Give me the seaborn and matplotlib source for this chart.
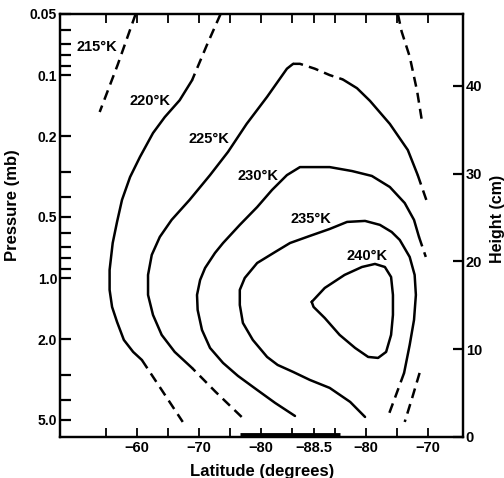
import matplotlib
matplotlib.use("Agg")
import matplotlib.pyplot as plt
import matplotlib.transforms as mtransforms
import seaborn as sns

# ---- axes data -------------------------------------------------------------
# x = position along the cross-polar section (deg of arc):
# left branch = |latitude|, right branch = 177 - |latitude|
x_limits = [47.6, 112.6]
xtick_pos = [55, 60, 65, 70, 75, 80, 85, 88.5, 92, 97, 102, 107]
xtick_labels = ["", "−60", "", "−70", "", "−80", "", "−88.5", "", "−80", "", "−70"]
p_limits = [6.07, 0.05]
p_major = [0.05, 0.1, 0.2, 0.5, 1.0, 2.0, 5.0]
p_major_labels = ["0.05", "0.1", "0.2", "0.5", "1.0", "2.0", "5.0"]
p_minor = [0.06, 0.07, 0.08, 0.09, 0.3, 0.4, 0.6, 0.7, 0.8, 0.9, 3.0, 4.0]
height_limits = [0, 48.2]
height_ticks = [0, 10, 20, 30, 40]
night_bar_x = [76.6, 92.7]

# ---- isotherms (x, pressure mb) -------------------------------------------
t215_x = [59.8, 56.9, 54.0]
t215_p = [0.050, 0.089, 0.152]

t220_top_x = [73.5, 71.3, 68.9]
t220_top_p = [0.050, 0.071, 0.106]
t220_x = [68.9, 66.9, 64.5, 62.6, 60.5, 58.9, 57.6, 56.8, 56.1, 55.6, 55.6, 56.0,
          56.8, 57.9, 59.4, 60.8]
t220_p = [0.106, 0.133, 0.161, 0.193, 0.253, 0.318, 0.412, 0.529, 0.672, 0.912,
          1.144, 1.388, 1.645, 2.018, 2.312, 2.532]
t220_bot_x = [60.8, 64.0, 67.4]
t220_bot_p = [2.532, 3.559, 5.117]
t220_right_x = [102.1, 102.7, 104.0, 105.2, 106.0]
t220_right_p = [0.050, 0.061, 0.081, 0.120, 0.170]

t225_bot_x = [76.9, 72.7, 68.9]
t225_bot_p = [4.835, 3.639, 2.774]
t225_x = [68.9, 66.1, 64.0, 62.6, 61.8, 61.8, 62.4, 63.7, 65.6, 68.5, 71.8, 74.7,
          77.7, 81.0, 84.2, 85.2]
t225_p = [2.774, 2.312, 1.906, 1.520, 1.211, 0.965, 0.769, 0.627, 0.517, 0.412,
          0.311, 0.239, 0.174, 0.128, 0.093, 0.088]
t225_peak_x = [85.2, 86.3, 88.7, 91.1, 93.2]
t225_peak_p = [0.088, 0.088, 0.093, 0.100, 0.105]
t225_right_x = [93.2, 95.5, 97.6, 100.8, 103.7, 105.3]
t225_right_p = [0.105, 0.116, 0.134, 0.174, 0.234, 0.311]
t225_end_x = [105.3, 106.8]
t225_end_p = [0.311, 0.422]

t230_x = [85.5, 82.3, 79.4, 76.3, 73.9, 71.8, 70.5, 69.8, 69.7, 70.2, 71.0, 72.6,
          73.9, 76.6, 79.4, 81.8, 84.2, 86.3, 91.1, 94.7, 97.9, 100.8, 103.2,
          104.7, 105.5]
t230_p = [4.781, 4.124, 3.559, 3.035, 2.620, 2.210, 1.802, 1.436, 1.211, 1.022,
          0.892, 0.752, 0.672, 0.547, 0.447, 0.368, 0.311, 0.284, 0.284, 0.297,
          0.314, 0.356, 0.427, 0.517, 0.627]
t230_end_x = [105.5, 106.6]
t230_end_p = [0.627, 0.787]
t230_low_x = [105.6, 104.4, 103.2]
t230_low_p = [2.934, 3.896, 5.117]

t235_x = [96.8, 94.4, 91.1, 87.9, 85.2, 82.7, 81.0, 78.7, 77.1, 76.6, 76.6, 77.4,
          79.4, 82.3, 84.7, 87.9, 91.1, 93.9, 96.8, 99.2, 101.1, 102.4, 104.0,
          104.8, 105.0, 104.7, 104.0, 103.1]
t235_p = [4.835, 4.077, 3.478, 3.177, 2.901, 2.680, 2.447, 2.018, 1.664, 1.357,
          1.144, 0.999, 0.843, 0.744, 0.672, 0.620, 0.573, 0.529, 0.523, 0.547,
          0.593, 0.649, 0.787, 0.965, 1.211, 1.608, 2.136, 2.934]
t235_end_x = [103.1, 101.8, 100.6]
t235_end_p = [2.934, 3.765, 4.727]

t240_x = [88.2, 90.3, 93.5, 96.3, 98.4, 100.0, 101.0, 101.3, 101.3, 101.0, 100.2,
          98.9, 97.3, 95.2, 92.7, 90.3, 88.5, 88.2]
t240_p = [1.311, 1.119, 0.965, 0.882, 0.852, 0.882, 0.988, 1.211, 1.520, 1.906,
          2.312, 2.475, 2.447, 2.210, 1.906, 1.573, 1.388, 1.311]

label_text = ["215°K", "220°K", "225°K", "230°K", "235°K", "240°K"]
label_x = [53.5, 62.1, 71.6, 79.5, 88.1, 97.1]
label_p = [0.0727, 0.134, 0.206, 0.314, 0.512, 0.778]

solid_segments = [(t220_x, t220_p), (t225_x, t225_p), (t225_right_x, t225_right_p),
                  (t230_x, t230_p), (t235_x, t235_p), (t240_x, t240_p)]
dashed_segments = [(t215_x, t215_p), (t220_top_x, t220_top_p), (t220_bot_x, t220_bot_p),
                   (t220_right_x, t220_right_p), (t225_bot_x, t225_bot_p),
                   (t225_peak_x, t225_peak_p), (t225_end_x, t225_end_p),
                   (t230_end_x, t230_end_p), (t230_low_x, t230_low_p),
                   (t235_end_x, t235_end_p)]

# ---- style -----------------------------------------------------------------
sns.set_theme(style="white")
plt.rcParams["font.family"] = ["Liberation Sans", "DejaVu Sans"]
plt.rcParams["font.weight"] = "bold"
plt.rcParams["axes.labelweight"] = "bold"
for key in ["text.color", "axes.labelcolor", "xtick.color", "ytick.color",
            "axes.edgecolor"]:
    plt.rcParams[key] = "black"

fig = plt.figure(figsize=(5.04, 4.78), dpi=100)
ax = fig.add_axes([60 / 504, 41 / 478, 403 / 504, 423 / 478])
ax.set_yscale("log")

LW = 1.8
for xs, ps in solid_segments:
    sns.lineplot(x=xs, y=ps, sort=False, estimator=None, color="black",
                 linewidth=LW, ax=ax, solid_capstyle="round", solid_joinstyle="round")
for xs, ps in dashed_segments:
    sns.lineplot(x=xs, y=ps, sort=False, estimator=None, color="black",
                 linewidth=LW, ax=ax, dashes=False)
    ax.lines[-1].set_linestyle((0, (4.0, 2.5)))

for t, x, p in zip(label_text, label_x, label_p):
    ax.text(x, p, t, ha="center", va="center", fontsize=10.5, fontweight="bold",
            color="black")

ax.set_xlim(*x_limits)
ax.set_ylim(*p_limits)

ax.set_yticks(p_major)
ax.set_yticklabels(p_major_labels)
ax.set_yticks(p_minor, minor=True)
ax.set_yticklabels([], minor=True)
ax.set_xticks(xtick_pos)
ax.set_xticklabels(xtick_labels)
ax.tick_params(axis="y", which="both", direction="in", left=True, right=False,
               length=8, width=1.6, pad=2, labelsize=10, colors="black")
ax.tick_params(axis="x", which="both", direction="in", top=True, bottom=True,
               length=6.5, width=1.3, pad=3, labelsize=10.5, colors="black")
for lab in ax.get_xticklabels() + ax.get_yticklabels():
    lab.set_fontweight("bold")

for sp in ax.spines.values():
    sp.set_linewidth(1.6)
    sp.set_color("black")

# thick bar along the lower axis
trans = mtransforms.blended_transform_factory(ax.transData, ax.transAxes)
ax.plot(night_bar_x, [0.004, 0.004], color="black", linewidth=3.5,
        transform=trans, clip_on=False, solid_capstyle="butt")

ax.set_xlabel("Latitude (degrees)", fontsize=12, fontweight="bold", color="black")
ax.xaxis.set_label_coords(0.501, -0.064)
ax.set_ylabel("Pressure (mb)", fontsize=12, fontweight="bold", color="black")
ax.yaxis.set_label_coords(-0.099, 0.548)

ax2 = ax.twinx()
ax2.set_ylim(*height_limits)
ax2.set_yticks(height_ticks)
ax2.set_yticklabels([str(v) for v in height_ticks])
ax2.tick_params(axis="y", direction="in", length=7, width=1.6, pad=2, labelsize=10.5,
                colors="black")
for lab in ax2.get_yticklabels():
    lab.set_fontweight("bold")
for sp in ax2.spines.values():
    sp.set_linewidth(1.6)
    sp.set_color("black")
ax2.set_ylabel("Height (cm)", fontsize=11.5, fontweight="bold", rotation=90,
               color="black")
ax2.yaxis.set_label_coords(1.066, 0.515)

fig.savefig("out.png", dpi=100, facecolor="white")
